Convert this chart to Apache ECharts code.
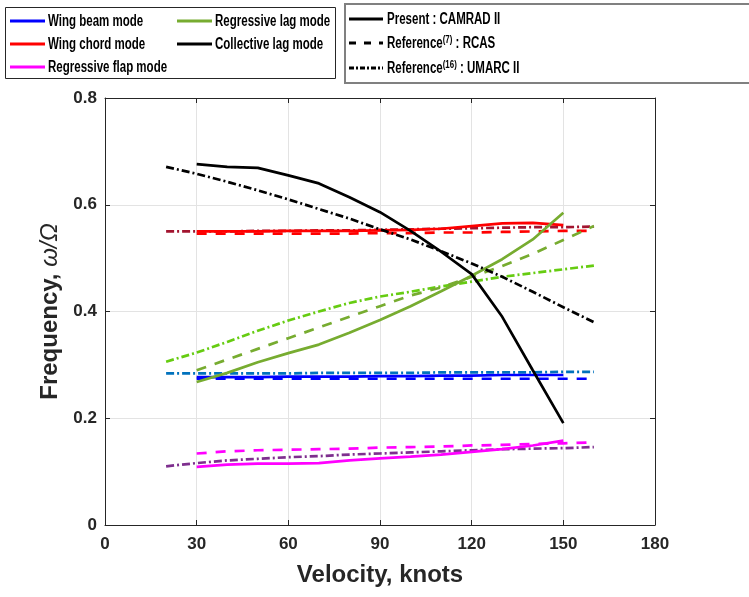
<!DOCTYPE html>
<html>
<head>
<meta charset="utf-8">
<script src="https://cdn.jsdelivr.net/npm/echarts@6/dist/echarts.min.js"></script>
<style>
html,body{margin:0;padding:0;background:#fff;}
#chart{width:749px;height:597px;}
</style>
</head>
<body>
<div id="chart"></div>
<script>
// ---- velocities (knots) ----
const velCamrad = [30, 40, 50, 60, 70, 80, 90, 100, 110, 120, 130, 140, 150];
const velRcas   = [30, 40, 50, 60, 70, 80, 90, 100, 110, 120, 130, 140, 150, 160];
const velUmarc  = [20, 30, 40, 50, 60, 70, 80, 90, 100, 110, 120, 130, 140, 150, 160];

// ---- Wing beam mode ----
const beamCamrad = [0.277, 0.277, 0.277, 0.278, 0.278, 0.278, 0.279, 0.279, 0.280, 0.280, 0.281, 0.281, 0.281];
const beamRcas   = [0.274, 0.274, 0.274, 0.274, 0.274, 0.274, 0.274, 0.274, 0.274, 0.274, 0.274, 0.274, 0.274, 0.274];
const beamUmarc  = [0.284, 0.284, 0.284, 0.284, 0.284, 0.285, 0.285, 0.285, 0.285, 0.286, 0.286, 0.286, 0.286, 0.287, 0.287];

// ---- Wing chord mode ----
const chordCamrad = [0.550, 0.550, 0.550, 0.551, 0.551, 0.551, 0.552, 0.553, 0.555, 0.560, 0.565, 0.566, 0.562];
const chordRcas   = [0.546, 0.546, 0.546, 0.546, 0.546, 0.546, 0.547, 0.547, 0.548, 0.548, 0.549, 0.550, 0.551, 0.551];
const chordUmarc  = [0.550, 0.550, 0.550, 0.551, 0.551, 0.552, 0.552, 0.553, 0.554, 0.555, 0.556, 0.557, 0.558, 0.558, 0.559];

// ---- Regressive flap mode ----
const flapCamrad = [0.109, 0.113, 0.115, 0.115, 0.116, 0.121, 0.125, 0.128, 0.132, 0.137, 0.142, 0.149, 0.158];
const flapRcas   = [0.134, 0.138, 0.140, 0.141, 0.142, 0.143, 0.145, 0.146, 0.147, 0.149, 0.150, 0.152, 0.153, 0.155];
const flapUmarc  = [0.110, 0.116, 0.121, 0.124, 0.127, 0.129, 0.132, 0.134, 0.136, 0.138, 0.140, 0.142, 0.143, 0.144, 0.146];

// ---- Regressive lag mode ----
const rlagCamrad = [0.268, 0.285, 0.305, 0.322, 0.338, 0.360, 0.384, 0.410, 0.438, 0.467, 0.498, 0.535, 0.585];
const rlagRcas   = [0.290, 0.310, 0.330, 0.350, 0.370, 0.390, 0.410, 0.430, 0.445, 0.465, 0.485, 0.508, 0.534, 0.560];
const rlagUmarc  = [0.306, 0.323, 0.343, 0.364, 0.383, 0.400, 0.416, 0.428, 0.437, 0.447, 0.456, 0.465, 0.472, 0.479, 0.486];

// ---- Collective lag mode ----
const clagCamrad = [0.676, 0.671, 0.669, 0.655, 0.640, 0.614, 0.586, 0.551, 0.512, 0.470, 0.390, 0.290, 0.191];
const clagUmarc  = [0.671, 0.658, 0.643, 0.627, 0.610, 0.592, 0.574, 0.554, 0.535, 0.513, 0.490, 0.465, 0.437, 0.408, 0.380];

// ---- axis ticks ----
const xTicks = [0, 30, 60, 90, 120, 150, 180];
const yTicks = [0, 0.2, 0.4, 0.6, 0.8];

// ---- legend texts ----
const modeNames = ['Wing beam mode', 'Wing chord mode', 'Regressive flap mode', 'Regressive lag mode', 'Collective lag mode'];
const modeColors = ['#0000ff', '#ff0000', '#ff00ff', '#77ac30', '#000000'];
const refLabels = ['Present : CAMRAD II', 'Reference{sup|(7)} : RCAS', 'Reference{sup|(16)} : UMARC II'];

const DASH = [10, 9];
const DASHDOT = [8, 3, 2, 3];
const LW = 2.7;

function pairs(xs, ys) { return xs.map((x, i) => [x, ys[i]]); }
function line(name, xs, ys, color, type) {
  return {
    name: name, type: 'line', data: pairs(xs, ys), symbol: 'none', smooth: false,
    xAxisIndex: 0, yAxisIndex: 0, silent: true, animation: false,
    lineStyle: { color: color, width: LW, type: type }
  };
}

const series = [
  line('Wing beam mode - UMARC II', velUmarc, beamUmarc, '#0072bd', DASHDOT),
  line('Wing beam mode - RCAS', velRcas, beamRcas, '#0000ff', DASH),
  line('Wing beam mode - CAMRAD II', velCamrad, beamCamrad, '#0000ff', 'solid'),
  line('Wing chord mode - UMARC II', velUmarc, chordUmarc, '#a2142f', DASHDOT),
  line('Wing chord mode - RCAS', velRcas, chordRcas, '#ff0000', DASH),
  line('Wing chord mode - CAMRAD II', velCamrad, chordCamrad, '#ff0000', 'solid'),
  line('Regressive flap mode - UMARC II', velUmarc, flapUmarc, '#7e2f8e', DASHDOT),
  line('Regressive flap mode - RCAS', velRcas, flapRcas, '#ff00ff', DASH),
  line('Regressive flap mode - CAMRAD II', velCamrad, flapCamrad, '#ff00ff', 'solid'),
  line('Regressive lag mode - UMARC II', velUmarc, rlagUmarc, '#66cc11', DASHDOT),
  line('Regressive lag mode - RCAS', velRcas, rlagRcas, '#77ac30', DASH),
  line('Regressive lag mode - CAMRAD II', velCamrad, rlagCamrad, '#77ac30', 'solid'),
  line('Collective lag mode - UMARC II', velUmarc, clagUmarc, '#000000', DASHDOT),
  line('Collective lag mode - CAMRAD II', velCamrad, clagCamrad, '#000000', 'solid')
];

// ---- legend boxes drawn as graphics (condensed text) ----
const LEG_FONT = '"Liberation Sans", Arial, sans-serif';
function legLine(x1, x2, y, color, dash) {
  return { type: 'line', silent: true, shape: { x1: x1, y1: y, x2: x2, y2: y },
    style: { stroke: color, lineWidth: 3, lineDash: dash || null } };
}
function legText(x, y, txt, sx) {
  return { type: 'text', silent: true, x: x, y: y, scaleX: sx,
    style: { text: txt, x: 0, y: 0, fill: '#000', font: 'bold 16px ' + LEG_FONT,
      fontFamily: LEG_FONT, fontWeight: 'bold', fontSize: 16,
      textVerticalAlign: 'middle', verticalAlign: 'middle',
      rich: { sup: { fontFamily: LEG_FONT, fontWeight: 'bold', fontSize: 11, fill: '#000', verticalAlign: 'top', padding: [0, 0, 9, 0] } } } };
}
const legRows1 = [21, 44, 67];
const legRows2 = [19, 43, 68];
const graphics = [
  { type: 'rect', silent: true, shape: { x: 5.5, y: 7.5, width: 330, height: 71 }, style: { fill: '#fff', stroke: '#262626', lineWidth: 1 } },
  { type: 'rect', silent: true, shape: { x: 345, y: 4, width: 420, height: 79 }, style: { fill: '#fff', stroke: '#808080', lineWidth: 2 } }
];
modeNames.forEach((n, i) => {
  const col = i < 3 ? 0 : 1;
  const row = i < 3 ? i : i - 3;
  const lx = col === 0 ? 10 : 177;
  graphics.push(legLine(lx, lx + 35, legRows1[row], modeColors[i], null));
  graphics.push(legText(lx + 38, legRows1[row] + 1, n, 0.72));
});
[null, [7, 8], [5, 2, 2, 2]].forEach((d, i) => {
  graphics.push(legLine(349, 383, legRows2[i], '#000', d));
  graphics.push(legText(387, legRows2[i] + 1, refLabels[i], 0.72));
});

const AX = '#262626';
const tickFont = { fontFamily: '"Liberation Sans", Arial, sans-serif', fontWeight: 'bold', fontSize: 17, color: AX };

const option = {
  backgroundColor: '#fff',
  animation: false,
  grid: { left: 105, right: 94, top: 98, bottom: 72, outerBoundsMode: 'none', containLabel: false },
  graphic: graphics,
  xAxis: [
    {
      type: 'value', min: 0, max: 180, interval: 30, position: 'bottom',
      name: 'Velocity, knots', nameLocation: 'middle', nameGap: 38,
      nameTextStyle: { fontFamily: '"Liberation Sans", Arial, sans-serif', fontWeight: 'bold', fontSize: 24, color: AX },
      axisLine: { show: true, onZero: false, lineStyle: { color: AX, width: 1 } },
      axisTick: { show: true, inside: true, length: 5, lineStyle: { color: AX } },
      axisLabel: Object.assign({ margin: 11, formatter: v => xTicks.includes(v) ? String(v) : '' }, tickFont),
      splitLine: { show: true, lineStyle: { color: '#e3e3e3', width: 1 } }
    },
    {
      type: 'value', min: 0, max: 180, interval: 30, position: 'top',
      axisLine: { show: true, onZero: false, lineStyle: { color: AX, width: 1 } },
      axisTick: { show: true, inside: true, length: 5, lineStyle: { color: AX } },
      axisLabel: { show: false }, splitLine: { show: false }
    }
  ],
  yAxis: [
    {
      type: 'value', min: 0, max: 0.8, interval: 0.2, position: 'left',
      name: 'Frequency, {i|ω/Ω}', nameLocation: 'middle', nameGap: 40,
      nameTextStyle: {
        fontFamily: '"Liberation Sans", Arial, sans-serif', fontWeight: 'bold', fontSize: 24, color: AX,
        rich: { i: { fontFamily: '"Liberation Sans", Arial, sans-serif', fontStyle: 'italic', fontWeight: 'normal', fontSize: 24, color: AX } }
      },
      axisLine: { show: true, onZero: false, lineStyle: { color: AX, width: 1 } },
      axisTick: { show: true, inside: true, length: 5, lineStyle: { color: AX } },
      axisLabel: Object.assign({ margin: 8, formatter: v => yTicks.some(t => Math.abs(t - v) < 1e-9) ? (v === 0 ? '0' : v.toFixed(1)) : '' }, tickFont),
      splitLine: { show: true, lineStyle: { color: '#e3e3e3', width: 1 } }
    },
    {
      type: 'value', min: 0, max: 0.8, interval: 0.2, position: 'right',
      axisLine: { show: true, onZero: false, lineStyle: { color: AX, width: 1 } },
      axisTick: { show: true, inside: true, length: 5, lineStyle: { color: AX } },
      axisLabel: { show: false }, splitLine: { show: false }
    }
  ],
  series: series
};

const chart = echarts.init(document.getElementById('chart'), null, { renderer: 'canvas' });
chart.setOption(option);
</script>
</body>
</html>
